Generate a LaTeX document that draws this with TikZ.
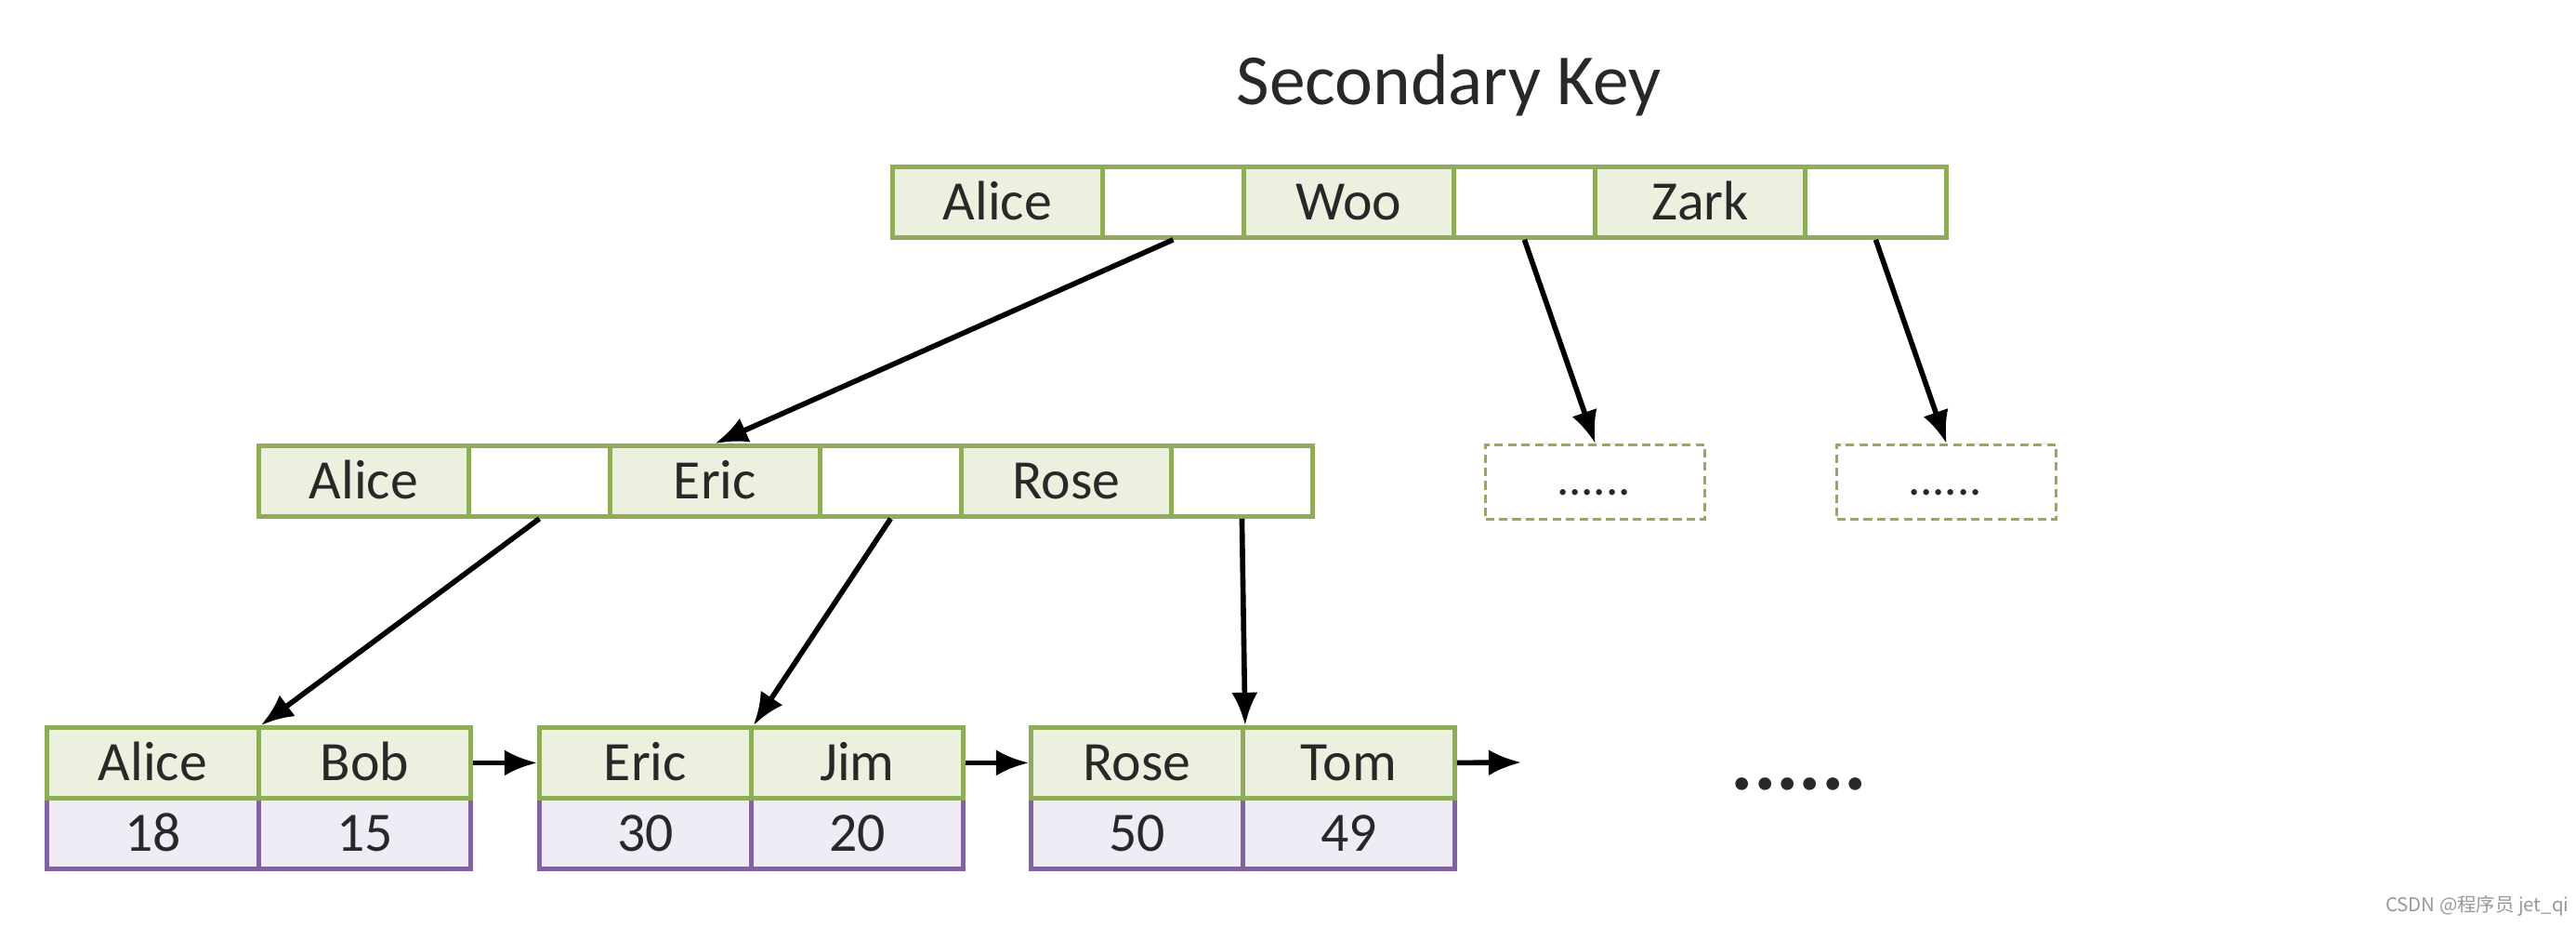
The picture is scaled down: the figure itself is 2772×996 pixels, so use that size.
\documentclass[tikz,border=0pt]{standalone}
\usepackage{fontspec}
\setmainfont{Carlito}
\newfontfamily\cjkfont{Noto Sans CJK SC}
\usetikzlibrary{arrows.meta}
\definecolor{gline}{RGB}{143,172,88}
\definecolor{gfill}{RGB}{235,241,222}
\definecolor{pline}{RGB}{128,100,162}
\definecolor{pfill}{RGB}{239,236,245}
\definecolor{txt}{RGB}{40,40,40}
\begin{document}
\begin{tikzpicture}[x=0.01cm,y=-0.01cm,
  cell/.style={draw=gline, line width=1.35pt, minimum height=0.76cm, inner sep=0pt,
    font=\fontsize{17}{17}\selectfont, text=txt, anchor=north west,
    text height=11pt, text depth=0pt},
  keycell/.style={cell, fill=gfill, minimum width=2.26cm},
  ptrcell/.style={cell, fill=white, minimum width=1.52cm},
  leafkey/.style={cell, fill=gfill, minimum width=2.28cm},
  leafval/.style={cell, draw=pline, fill=pfill, minimum width=2.28cm},
  dashbox/.style={draw=gline, line width=0.9pt, dash pattern=on 2.6pt off 1.5pt,
    minimum width=2.36cm, minimum height=0.8cm, anchor=north west, inner sep=0pt},
  arr/.style={-{Latex[length=10pt,width=8pt]}, line width=1.6pt, black},
]
\useasboundingbox[fill=white] (0,0) rectangle (2772,996);

% title
\node[font=\fontsize{22}{22}\selectfont, text=txt] (title) at (1559,92) {Secondary Key};

% root row
\node[keycell] (t1) at (958,177) {Alice};
\node[ptrcell] (t2) at (1184,177) {};
\node[keycell] (t3) at (1336,177) {Woo};
\node[ptrcell] (t4) at (1562,177) {};
\node[keycell] (t5) at (1714,177) {Zark};
\node[ptrcell] (t6) at (1940,177) {};

% middle row
\node[keycell] (m1) at (276,477) {Alice};
\node[ptrcell] (m2) at (502,477) {};
\node[keycell] (m3) at (654,477) {Eric};
\node[ptrcell] (m4) at (880,477) {};
\node[keycell] (m5) at (1032,477) {Rose};
\node[ptrcell] (m6) at (1258,477) {};

% dashed boxes
\node[dashbox] (d1) at (1597,477) {};
\node[dashbox] (d2) at (1975,477) {};
\node[font=\fontsize{15}{15}\selectfont, text=txt, inner sep=0pt] (d1t) at (1715,530) {......};
\node[font=\fontsize{15}{15}\selectfont, text=txt, inner sep=0pt] (d2t) at (2093,530) {......};

% leaves
\node[leafval] (l1c) at (48,856) {18};
\node[leafval] (l1d) at (276,856) {15};
\node[leafkey] (l1a) at (48,780) {Alice};
\node[leafkey] (l1b) at (276,780) {Bob};

\node[leafval] (l2c) at (578,856) {30};
\node[leafval] (l2d) at (806,856) {20};
\node[leafkey] (l2a) at (578,780) {Eric};
\node[leafkey] (l2b) at (806,780) {Jim};

\node[leafval] (l3c) at (1107,856) {50};
\node[leafval] (l3d) at (1335,856) {49};
\node[leafkey] (l3a) at (1107,780) {Rose};
\node[leafkey] (l3b) at (1335,780) {Tom};

% more dots
\node[font=\fontsize{26}{26}\selectfont\bfseries, text=txt, inner sep=0pt] (more) at (1936,843) {......};

% arrows
\draw[arr] (t2.south) -- (m3.north);
\draw[arr] (t4.south) -- (d1.north);
\draw[arr] (t6.south) -- (d2.north);
\draw[arr] (m2.south) -- (l1a.north east);
\draw[arr] (m4.south) -- (l2a.north east);
\draw[arr] (m6.south) -- (l3a.north east);
\draw[arr] (l1b.east) -- (l2a.west);
\draw[arr] (l2b.east) -- (l3a.west);
\coordinate (endc) at (1637,820);
\draw[arr] (l3b.east) -- (endc);

% watermark
\node[anchor=east, font=\cjkfont\fontsize{5.8}{6}\selectfont, text=gray!80, inner sep=0pt] (wm) at (2765,974) {CSDN @程序员 jet\_qi};
\end{tikzpicture}
\end{document}
